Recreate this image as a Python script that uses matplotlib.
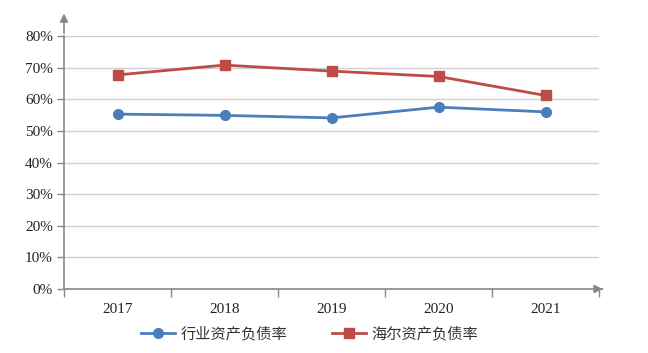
import matplotlib
matplotlib.use("Agg")
import matplotlib.pyplot as plt
from matplotlib.ticker import FixedLocator, PercentFormatter

years = ["2017", "2018", "2019", "2020", "2021"]
industry = [55.3, 54.9, 54.1, 57.5, 56.0]
haier = [67.7, 70.8, 68.9, 67.2, 61.2]
series_names = ["行业资产负债率", "海尔资产负债率"]

plt.rcParams['font.family'] = ['Noto Sans CJK SC', 'DejaVu Sans']

fig = plt.figure(figsize=(6.48, 3.53), dpi=100)
ax = fig.add_axes([64/648, 1-289/353, 535/648, 253/353])

x = list(range(len(years)))
blue = "#4a7ebb"
red = "#be4b48"
ax.plot(x, industry, color=blue, lw=2, marker="o", ms=7, label=series_names[0])
ax.plot(x, haier, color=red, lw=2, marker="s", ms=7, label=series_names[1])

ax.set_xlim(-0.5, len(years) - 0.5)
ax.set_ylim(0, 80)
ax.yaxis.set_major_locator(FixedLocator(range(0, 81, 10)))
ax.yaxis.set_major_formatter(PercentFormatter(decimals=0))
ax.set_xticks(x)
ax.set_xticklabels(years)
ax.xaxis.set_minor_locator(FixedLocator([i - 0.5 for i in range(len(years) + 1)]))
ax.tick_params(axis="x", which="major", length=0, pad=10)
ax.tick_params(axis="x", which="minor", length=6, color="#888888", width=1)
ax.tick_params(axis="y", length=5, color="#888888", width=1, pad=3)
for lab in ax.get_xticklabels() + ax.get_yticklabels():
    lab.set_fontfamily("Liberation Serif")
    lab.set_fontsize(11)
    lab.set_color("#222222")

ax.grid(axis="y", color="#d0d0d0", lw=1)
ax.set_axisbelow(True)
for s in ["top", "right"]:
    ax.spines[s].set_visible(False)
for s in ["left", "bottom"]:
    ax.spines[s].set_color("#888888")
    ax.spines[s].set_linewidth(1.2)

# axis arrows
ax.annotate("", xy=(0, 1.10), xytext=(0, 1.0), xycoords="axes fraction",
            arrowprops=dict(arrowstyle="-|>", color="#888888", lw=1.2, mutation_scale=12),
            annotation_clip=False)
ax.annotate("", xy=(1.012, 0), xytext=(1.0, 0), xycoords="axes fraction",
            arrowprops=dict(arrowstyle="-|>", color="#888888", lw=1.2, mutation_scale=12),
            annotation_clip=False)

leg = fig.legend(loc="center", bbox_to_anchor=(0.478, 1-334/353), ncol=2, frameon=False,
                 fontsize=11, handlelength=2.2, columnspacing=2.9, handletextpad=0.4,
                 borderaxespad=0, borderpad=0)
for t in leg.get_texts():
    t.set_color("#333333")

fig.savefig("out.png", dpi=100)
